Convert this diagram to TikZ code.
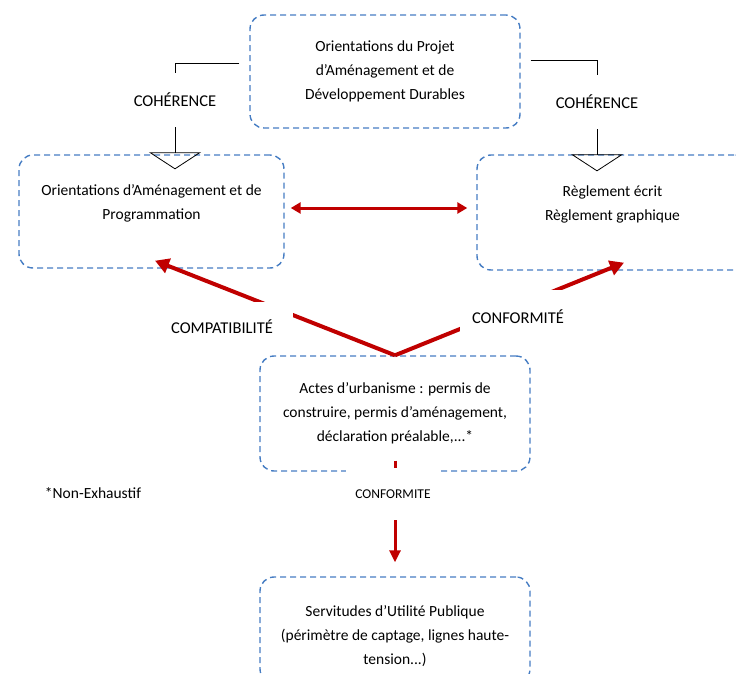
\documentclass[tikz,border=0pt]{standalone}
\usepackage{fontspec}
\setmainfont{Carlito}
\usetikzlibrary{arrows.meta}

\definecolor{dashblue}{RGB}{70,125,195}
\definecolor{linkred}{RGB}{192,0,0}

\begin{document}
\begin{tikzpicture}[x=1pt,y=-1pt,
  docbox/.style={draw=dashblue, line width=1.4pt, dash pattern=on 6pt off 4pt,
    rounded corners=14pt, align=center, font=\fontsize{15.5}{24}\selectfont},
  cohlink/.style={line width=0.8pt, -{Triangle[open,width=52pt,length=17pt,line width=0.8pt]}},
  cohtext/.style={fill=white, inner xsep=2pt, inner ysep=20pt, font=\fontsize{16.5}{18}\selectfont},
  redlink/.style={draw=linkred, line width=4pt, -{Triangle[width=15pt,length=14pt]}},
  gaptext/.style={fill=white, font=\fontsize{16.5}{18}\selectfont}]
\useasboundingbox (0,0) rectangle (736,674);
%boxes
\node[docbox, minimum width=270pt, minimum height=113pt] (padd) at (385,71.5) {Orientations du Projet\\d’Aménagement et de\\Développement Durables};
\node[docbox, minimum width=265pt, minimum height=113pt, text depth=19.5pt] (oap) at (151.5,211.5) {Orientations d’Aménagement et de\\Programmation};
\node[docbox, minimum width=271pt, minimum height=115pt, text depth=19.5pt] (regl) at (612.5,212.5) {Règlement écrit\\Règlement graphique};
\node[docbox, minimum width=270pt, minimum height=115pt] (actes) at (395,413.5) {Actes d’urbanisme : permis de\\construire, permis d’aménagement,\\déclaration préalable,...*};
\node[docbox, minimum width=270pt, minimum height=106pt, text height=71.5pt] (serv) at (395,630) {Servitudes d’Utilité Publique\\(périmètre de captage, lignes haute-\\tension...)};
%coherence links
\coordinate (cohLstart) at ([xshift=-10pt,yshift=8.5pt]padd.west);
\coordinate (cohLtip) at ([xshift=23.5pt,yshift=-15pt]oap.north);
\coordinate (cohRstart) at ([xshift=10pt,yshift=11.5pt]padd.east);
\coordinate (cohRtip) at ([xshift=-15.5pt,yshift=-17pt]regl.north);
\draw[cohlink] (cohLstart) -| node[cohtext, pos=0.673] {COHÉRENCE} (cohLtip);
\draw[cohlink] (cohRstart) -| node[cohtext, pos=0.688] {COHÉRENCE} (cohRtip);
%oap <-> reglement
\draw[linkred, line width=3pt, {Triangle[width=11pt,length=10pt]}-{Triangle[width=11pt,length=10pt]}] ([xshift=6pt,yshift=3.5pt]oap.east) -- ([xshift=-9pt,yshift=4.5pt]regl.west);
%actes to oap and reglement
\draw[redlink] (actes.north) -- ([xshift=3.5pt,yshift=8pt]oap.south);
\draw[redlink] (actes.north) -- ([xshift=11.5pt,yshift=8pt]regl.south);
\node[gaptext, minimum width=142pt, minimum height=50pt] (compat) at (222,327) {COMPATIBILITÉ};
\node[gaptext, minimum width=116pt, minimum height=54pt] (conf) at (518,317) {CONFORMITÉ};
%actes to servitudes
\draw[linkred, line width=3pt, -{Triangle[width=11pt,length=12pt]}] ([yshift=11pt]actes.south) -- ([yshift=14pt]serv.north);
\node[fill=white, minimum width=95pt, minimum height=52pt, font=\fontsize{13.5}{16}\selectfont] (conf2) at (393,494) {CONFORMITE};
%note
\node[font=\fontsize{15.5}{18}\selectfont] (nonex) at (93,493) {*Non-Exhaustif};
\end{tikzpicture}
\end{document}
